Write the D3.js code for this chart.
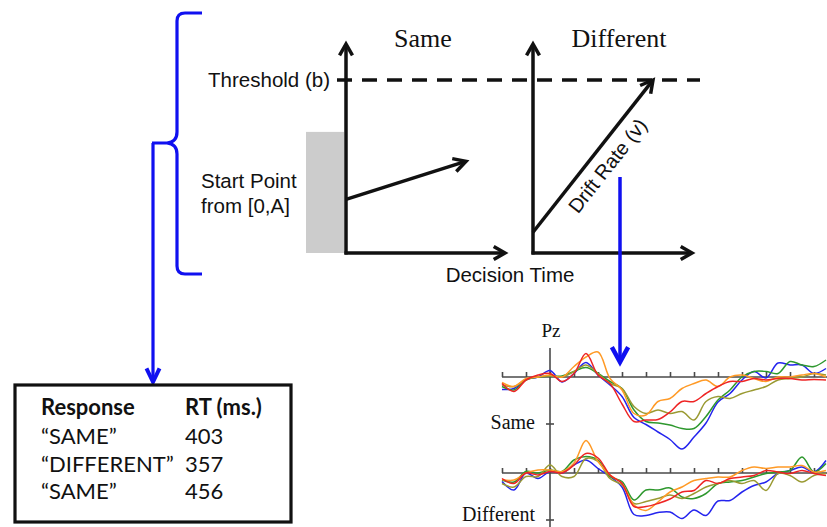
<!DOCTYPE html>
<html>
<head>
<meta charset="utf-8">
<script src="https://cdn.jsdelivr.net/npm/d3@7"></script>
<style>
  body { margin: 0; background: #fff; }
  svg { display: block; }
</style>
</head>
<body>
<script>
// ---- model diagram (LBA style) ----
var panels = ["Same", "Different"];
var startPoint = [0.31, 0.12];     // evidence at t=0, as fraction of threshold
var endPoint = [0.53, 1.0];        // evidence where the arrow stops
var endTime = [0.75, 0.75];        // decision time where the arrow stops
var threshold = 1.0;
var startMax = 0.70;               // A

// ---- behavioural table ----
var responses = ["\u201CSAME\u201D", "\u201CDIFFERENT\u201D", "\u201CSAME\u201D"];
var rts = [403, 357, 456];

// ---- ERP at Pz (µV, 50 ms steps) ----
var times = [-200,-150,-100,-50,0,50,100,150,200,250,300,350,400,450,500,550,600,650,700,750,800,850,900,950,1000,1050,1100,1150];
var timeTicks = [-200,-100,0,100,200,300,400,500,600,700,800,900,1000,1100];
var erpConds = ["Same", "Different"];
var seriesNames = ["blue", "green", "olive", "orange", "red"];
var seriesColors = ["#2424ee", "#2e982e", "#9a9a32", "#ff9a26", "#ee2424"];

var sameBlue   = [-2.5,-2.3,-0.5,0,1.3,-1.0,0.7,2.9,0.4,-1.6,-3.9,-8.1,-9.5,-11,-12.5,-14.4,-12,-9.2,-5,-3.3,-0.6,1.1,-0.2,2.8,2.4,2.4,0.7,1.7];
var sameGreen  = [-1.9,-2.6,-0.6,0,0.2,0.2,1.1,1.9,0.7,-0.9,-2.3,-6.6,-8.9,-9.2,-9.6,-10.3,-10.3,-7.9,-4.6,-2.6,0,1.1,1.1,0.7,3.1,2.4,2.1,3.4];
var sameOlive  = [-1.6,-1.9,-0.5,0,0.2,0,1.1,2.4,0.7,-1.3,-2.3,-5.9,-7.3,-6.6,-7.3,-6.9,-8.6,-4.9,-3.9,-4.3,-3.3,-2.6,-1.9,-0.6,-0.3,0,0.7,0.4];
var sameOrange = [-1.1,-1.9,-0.3,0,0.4,0,2.1,4.0,5.0,-0.3,-2.6,-7.3,-7.6,-4.9,-4.3,-2.3,-1.3,-0.6,-1.9,0,0.4,-0.3,-0.9,0,0,0.4,0.7,0];
var sameRed    = [-1.3,-2.9,-0.6,0.4,0.7,-0.9,0.7,4.7,0.4,-1.3,-5.4,-8.9,-8.6,-8.5,-7.0,-4.9,-4.9,-3.3,-1.9,-0.9,-0.9,-0.3,-0.6,-0.3,-0.3,-0.6,-0.5,-0.6];

var diffBlue   = [-1.7,-3.4,0,-1.1,0.3,0,1.6,2.6,0.9,-0.7,-2.8,-8.3,-8.5,-7.9,-7.8,-9.1,-7.4,-8.5,-5.6,-5.5,-3.8,-2.5,-1.8,-0.1,0.5,1.2,0.2,2.5];
var diffGreen  = [-1.4,-1.8,0.3,0,0.6,0.3,2.6,3.3,2.6,-0.7,-1.7,-5.4,-3.4,-3.4,-3.0,-4.8,-5.1,-4.1,-2.1,-1.8,-1.5,-0.8,-0.1,0.2,0.5,3.2,0.2,1.9];
var diffOlive  = [-2.1,-2.8,-0.7,-0.7,1.6,-0.7,-0.7,2.9,2.3,-1.1,-2.4,-6.1,-5.7,-5.1,-4.4,-5.1,-4.1,-2.8,-2.1,-1.5,-2.1,-1.5,-3.5,-0.1,-0.5,-1.8,-0.5,-0.1];
var diffOrange = [-1.3,-1.4,0,0.6,0.6,0.3,2.0,6.5,2.3,-0.4,-2.1,-6.4,-7.5,-5.8,-3.8,-2.8,-1.5,-1.1,-0.8,-0.8,0.5,1.2,0.9,1.2,1.2,1.5,0.2,0.5];
var diffRed    = [-1.1,-2.1,0,-0.4,0.3,0,1.6,3.9,3.0,-0.4,-2.1,-6.7,-6.7,-6.1,-5.2,-3.8,-3.5,-1.5,-2.1,-1.1,-0.8,-0.5,0.5,0.2,-0.1,0.5,-0.1,-0.5];

var erpData = [
  [sameBlue, sameGreen, sameOlive, sameOrange, sameRed],
  [diffBlue, diffGreen, diffOlive, diffOrange, diffRed]
];

var W = 827, H = 527;
var BLUE = "#1010f0";
var sans = "'Liberation Sans', Arial, sans-serif";
var serif = "'Liberation Serif', 'Times New Roman', serif";

var svg = d3.select("body").append("svg")
  .attr("width", W)
  .attr("height", H);

svg.append("rect").attr("width", W).attr("height", H).attr("fill", "#fff");

// open chevron arrow head
function chevron(g, tx, ty, ang, len, spread, color, sw) {
  var a1 = ang + Math.PI - spread, a2 = ang + Math.PI + spread;
  g.append("polyline")
    .attr("points", [
      [tx + len*Math.cos(a1), ty + len*Math.sin(a1)],
      [tx, ty],
      [tx + len*Math.cos(a2), ty + len*Math.sin(a2)]
    ].map(function(p){ return p.join(","); }).join(" "))
    .attr("fill", "none")
    .attr("stroke", color)
    .attr("stroke-width", sw)
    .attr("stroke-linejoin", "miter")
    .attr("stroke-linecap", "butt");
}

// ============ model diagram ============
var diag = svg.append("g");
var ev = d3.scaleLinear().domain([0, threshold]).range([253, 80]);
var panelX = d3.scaleOrdinal().domain(panels).range([346, 533]);
var tLen = 160;

// start point box
diag.append("rect")
  .attr("x", 306).attr("width", 38)
  .attr("y", ev(startMax)).attr("height", ev(0) - ev(startMax))
  .attr("fill", "#cccccc");

// threshold dashed line
diag.append("line")
  .attr("x1", 337).attr("x2", 700)
  .attr("y1", ev(threshold)).attr("y2", ev(threshold))
  .attr("stroke", "#111").attr("stroke-width", 3.5)
  .attr("stroke-dasharray", "15,10");

panels.forEach(function(p, i) {
  var x0 = panelX(p);
  var tx = d3.scaleLinear().domain([0, 1]).range([x0, x0 + tLen]);
  var g = diag.append("g");
  // axes
  g.append("line").attr("x1", x0).attr("x2", x0).attr("y1", ev(0) + 1.5).attr("y2", 44)
    .attr("stroke", "#111").attr("stroke-width", 3.5);
  chevron(g, x0, 44, -Math.PI/2, 13, 0.52, "#111", 3.5);
  g.append("line").attr("x1", x0 - 1.5).attr("x2", tx(1) - 1).attr("y1", ev(0)).attr("y2", ev(0))
    .attr("stroke", "#111").attr("stroke-width", 3.5);
  chevron(g, tx(1) - 1, ev(0), 0, 13, 0.52, "#111", 3.5);
  // accumulation arrow
  var sx = tx(0), sy = ev(startPoint[i]), ex = tx(endTime[i]), ey = ev(endPoint[i]);
  var ang = Math.atan2(ey - sy, ex - sx);
  g.append("line").attr("x1", sx).attr("y1", sy)
    .attr("x2", ex - 2*Math.cos(ang)).attr("y2", ey - 2*Math.sin(ang))
    .attr("stroke", "#111").attr("stroke-width", 3.5);
  chevron(g, ex, ey, ang, 14, 0.5, "#111", 3.5);
  // titles
  g.append("text")
    .attr("x", x0 + 77 + (i === 1 ? 9 : 0)).attr("y", 47)
    .attr("text-anchor", "middle")
    .attr("font-family", serif).attr("font-size", 26)
    .attr("fill", "#111")
    .text(p);
  if (i === 1) {
    var deg = ang * 180 / Math.PI;
    g.append("text")
      .attr("transform", "translate(613,170) rotate(" + deg + ")")
      .attr("text-anchor", "middle")
      .attr("font-family", sans).attr("font-size", 20)
      .attr("fill", "#111")
      .text("Drift Rate (v)");
  }
});

diag.append("text").attr("x", 330).attr("y", 87).attr("text-anchor", "end")
  .attr("font-family", sans).attr("font-size", 20.5).attr("fill", "#111")
  .text("Threshold (b)");
diag.append("text").attr("x", 201).attr("y", 188)
  .attr("font-family", sans).attr("font-size", 20.5).attr("fill", "#111")
  .text("Start Point");
diag.append("text").attr("x", 201).attr("y", 213)
  .attr("font-family", sans).attr("font-size", 20.5).attr("fill", "#111")
  .text("from [0,A]");
diag.append("text").attr("x", 510).attr("y", 282).attr("text-anchor", "middle")
  .attr("font-family", sans).attr("font-size", 20.5).attr("fill", "#111")
  .text("Decision Time");

// blue brace + arrows
var blue = svg.append("g");
blue.append("path")
  .attr("d", "M202,13 H185 Q177,13 177,21 V132 Q177,142 167,143 H152 M167,143 Q177,144 177,154 V266 Q177,274 185,274 H202")
  .attr("fill", "none").attr("stroke", BLUE).attr("stroke-width", 3.2);
blue.append("line").attr("x1", 153).attr("x2", 153).attr("y1", 143).attr("y2", 381)
  .attr("stroke", BLUE).attr("stroke-width", 3.2);
chevron(blue, 153, 382, Math.PI/2, 15, 0.45, BLUE, 4);
blue.append("line").attr("x1", 620).attr("x2", 620).attr("y1", 177).attr("y2", 361)
  .attr("stroke", BLUE).attr("stroke-width", 3.5);
chevron(blue, 620, 362, Math.PI/2, 17, 0.5, BLUE, 4.5);

// ============ table ============
var tab = svg.append("g");
tab.append("rect").attr("x", 15).attr("y", 385).attr("width", 276).attr("height", 137)
  .attr("fill", "#fff").attr("stroke", "#111").attr("stroke-width", 3.2);
var tfont = "Lato, 'Open Sans', sans-serif";
var tsize = 22;
var rowY = d3.scaleLinear().domain([0, 1]).range([444, 471.5]);
tab.append("text").attr("x", 41).attr("y", 415)
  .attr("font-family", tfont).attr("font-weight", "bold").attr("font-size", tsize).attr("fill", "#111")
  .text("Response");
tab.append("text").attr("x", 185).attr("y", 415)
  .attr("font-family", tfont).attr("font-weight", "bold").attr("font-size", tsize).attr("fill", "#111")
  .text("RT (ms.)");
responses.forEach(function(r, i) {
  tab.append("text").attr("x", 41).attr("y", rowY(i))
    .attr("font-family", tfont).attr("font-size", tsize).attr("fill", "#111").text(r);
  tab.append("text").attr("x", 185).attr("y", rowY(i))
    .attr("font-family", tfont).attr("font-size", tsize).attr("fill", "#111").text(rts[i]);
});

// ============ ERP panel ============
var erp = svg.append("g");
var xT = d3.scaleLinear().domain([-200, 1150]).range([502, 826]);
var baseY = d3.scaleOrdinal().domain(erpConds).range([377, 473]);
var labelY = d3.scaleOrdinal().domain(erpConds).range([424, 520]);
var axisCol = "#4a4a4a";

erp.append("line").attr("x1", xT(0)).attr("x2", xT(0)).attr("y1", 348).attr("y2", H)
  .attr("stroke", axisCol).attr("stroke-width", 1.6);
erp.append("text").attr("x", 551).attr("y", 337).attr("text-anchor", "middle")
  .attr("font-family", serif).attr("font-size", 19).attr("fill", "#111").text("Pz");

erpConds.forEach(function(c, ci) {
  var b = baseY(c);
  var y = d3.scaleLinear().domain([0, -10]).range([b, b + 50]);
  var ax = erp.append("g").attr("transform", "translate(0," + b + ")")
    .call(d3.axisTop(xT).tickValues(timeTicks).tickSize(5).tickSizeOuter(0).tickFormat(""));
  ax.selectAll("path, line").attr("stroke", axisCol).attr("stroke-width", 1.6);
  ax.select(".domain").attr("d", "M" + xT(-200) + ",0H" + W);

  erp.append("line").attr("x1", xT(0) - 4).attr("x2", xT(0) + 4)
    .attr("y1", labelY(c)).attr("y2", labelY(c))
    .attr("stroke", axisCol).attr("stroke-width", 1.6);
  erp.append("text").attr("x", 535).attr("y", Math.min(labelY(c) + 5, 521)).attr("text-anchor", "end")
    .attr("font-family", serif).attr("font-size", 20).attr("fill", "#111").text(c);

  var line = d3.line()
    .x(function(d, i) { return xT(times[i]); })
    .y(function(d) { return y(d); })
    .curve(d3.curveCatmullRom.alpha(0.5));
  erp.append("g").selectAll("path")
    .data(erpData[ci])
    .enter().append("path")
    .attr("d", line)
    .attr("fill", "none")
    .attr("stroke", function(d, i) { return seriesColors[i]; })
    .attr("stroke-width", 1.5);
});
</script>
</body>
</html>
